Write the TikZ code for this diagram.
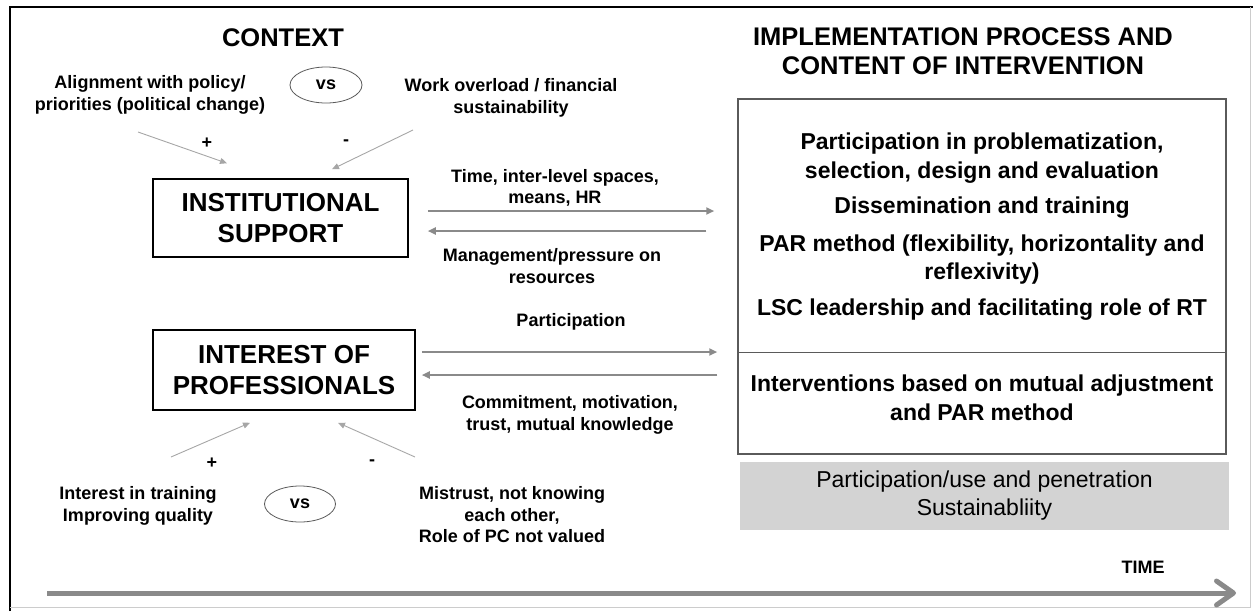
\documentclass[tikz,border=0pt]{standalone}
\usepackage{fontspec}
\setmainfont{Liberation Sans}
\usetikzlibrary{arrows.meta,shapes.geometric,calc}
\definecolor{arrgray}{HTML}{8A8A8A}
\definecolor{thingray}{HTML}{A6A6A6}
\definecolor{boxgray}{HTML}{D3D3D3}
\definecolor{framegray}{HTML}{5A5A5A}
\tikzset{
  lbl/.style={font=\fontsize{18}{21.5}\selectfont\bfseries, align=center, inner sep=0pt},
  hdr/.style={font=\fontsize{25.5}{29.5}\selectfont\bfseries, align=center, inner sep=0pt},
  boxtxt/.style={font=\fontsize{23}{28.5}\selectfont\bfseries, align=center, inner sep=0pt},
  factorbox/.style={draw=black, line width=1.5pt, align=center, inner sep=0pt,
    font=\fontsize{26}{30.5}\selectfont\bfseries},
  vsnode/.style={ellipse, draw=framegray, line width=0.8pt, inner sep=0pt,
    font=\fontsize{18}{21}\selectfont\bfseries},
  ctxarrow/.style={draw=thingray, line width=0.9pt, -{Triangle[length=7pt,width=6pt]}},
  flow/.style={draw=arrgray, line width=2pt, -{Triangle[length=8pt,width=7pt]}},
  timearrow/.style={draw=arrgray, line width=5pt, -{Straight Barb[length=17pt,width=24pt,line cap=round,line join=round]}},
}
\begin{document}
\begin{tikzpicture}[x=1pt,y=-1pt]
\useasboundingbox (0,0) rectangle (1253,611);
% frame
\draw[black, line width=2.5pt] (10,611) -- (10,7) -- (1253,7);
\draw[gray!40, line width=0.6pt] (1250,7) -- (1250,607) -- (10,607);

% headers
\node[hdr] (ctx) at (283,37.5) {CONTEXT};
\node[hdr] (impltitle) at (963,51) {IMPLEMENTATION PROCESS AND\\CONTENT OF INTERVENTION};

% context factors (institutional)
\node[lbl] (align) at (150,95) {Alignment with policy/\\priorities (political change)};
\node[vsnode, minimum width=72pt, minimum height=36pt] (vs1) at (326,85) {vs};
\node[lbl] (work) at (511,98) {Work overload / financial\\sustainability};

\node[factorbox, minimum width=255pt, minimum height=78pt] (inst) at (280.5,218) {INSTITUTIONAL\\SUPPORT};
\node[factorbox, minimum width=262pt, minimum height=80pt] (int) at (284,370) {INTEREST OF\\PROFESSIONALS};

\coordinate (a1s) at (138,132);
\coordinate (a2s) at (413,130);
\draw[ctxarrow] (a1s) -- ([xshift=-53.5pt,yshift=15pt]inst.north);
\draw[ctxarrow] (a2s) -- ([xshift=51.5pt,yshift=9pt]inst.north);
\node[lbl] (plus1) at (207,143) {+};
\node[lbl] (minus1) at (346,143) {-};

% professionals factors
\coordinate (b1s) at (171,457);
\coordinate (b2s) at (415,457);
\draw[ctxarrow] (b1s) -- ([xshift=-34pt,yshift=-12pt]int.south);
\draw[ctxarrow] (b2s) -- ([xshift=54pt,yshift=-12pt]int.south);
\node[lbl] (plus2) at (212,463) {+};
\node[lbl] (minus2) at (372,463) {-};
\node[lbl] (interest) at (138,506) {Interest in training\\Improving quality};
\node[vsnode, minimum width=71pt, minimum height=36pt] (vs2) at (300,504) {vs};
\node[lbl] (mistrust) at (512,515) {Mistrust, not knowing\\each other,\\Role of PC not valued};

% implementation box
\node[draw=framegray, line width=1.5pt, minimum width=488pt, minimum height=355pt, inner sep=0pt] (impl) at (982,276.5) {};
\draw[draw=framegray, line width=0.8pt] (impl.west |- 0,352) -- (impl.east |- 0,352);
\node[boxtxt] (p1) at (982,158) {Participation in problematization,\\selection, design and evaluation};
\node[boxtxt] (p2) at (982,208) {Dissemination and training};
\node[boxtxt] (p3) at (982,259.5) {PAR method (flexibility, horizontality and\\reflexivity)};
\node[boxtxt] (p4) at (982,310) {LSC leadership and facilitating role of RT};
\node[boxtxt] (p5) at (982,398) {Interventions based on mutual adjustment\\and PAR method};

\node[fill=boxgray, minimum width=489pt, minimum height=68pt, inner sep=0pt, align=center,
  font=\fontsize{23}{28}\selectfont] (outcome) at (984.5,496) {Participation/use and penetration\\Sustainabliity};

% flows
\draw[flow] ([xshift=19pt,yshift=7pt]inst.east) -- ([xshift=-23pt,yshift=7pt]inst.east -| impl.west);
\draw[flow] ([xshift=-31pt,yshift=-13pt]inst.east -| impl.west) -- ([xshift=19pt,yshift=-13pt]inst.east);
\node[lbl] (timelbl) at (555,188) {Time, inter-level spaces,\\means, HR};
\node[lbl] (mgmt) at (552,266) {Management/pressure on\\resources};

\draw[flow] ([xshift=6pt,yshift=18pt]int.east) -- ([xshift=-20pt,yshift=18pt]int.east -| impl.west);
\draw[flow] ([xshift=-20pt,yshift=-5pt]int.east -| impl.west) -- ([xshift=6pt,yshift=-5pt]int.east);
\node[lbl] (partic) at (571,322) {Participation};
\node[lbl] (commit) at (570,415) {Commitment, motivation,\\trust, mutual knowledge};

% time arrow
\coordinate (t0) at (47,593);
\coordinate (t1) at (1236,593);
\draw[timearrow] (t0) -- (t1);
\node[lbl] (time) at (1143,567) {TIME};
\end{tikzpicture}
\end{document}
